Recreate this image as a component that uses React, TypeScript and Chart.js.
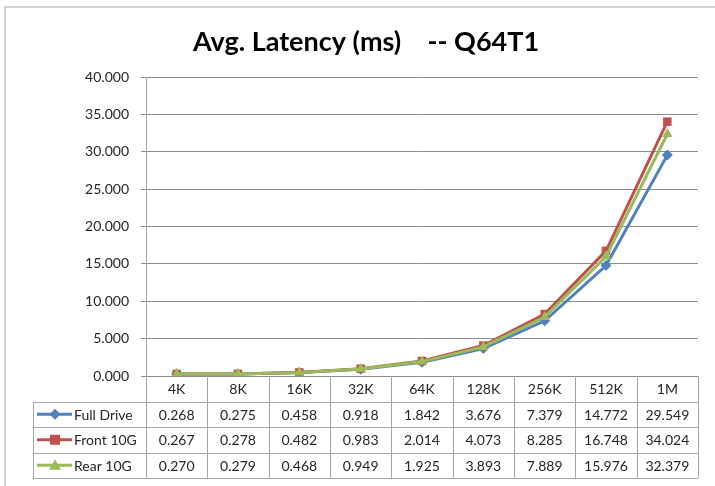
import React, { useEffect, useRef } from 'react';
import { Chart, registerables } from 'chart.js';

Chart.register(...registerables);

const titleText = 'Avg. Latency (ms)    -- Q64T1';
const categories = ['4K', '8K', '16K', '32K', '64K', '128K', '256K', '512K', '1M'];
const fullDrive = [0.268, 0.275, 0.458, 0.918, 1.842, 3.676, 7.379, 14.772, 29.549];
const front10G = [0.267, 0.278, 0.482, 0.983, 2.014, 4.073, 8.285, 16.748, 34.024];
const rear10G = [0.27, 0.279, 0.468, 0.949, 1.925, 3.893, 7.889, 15.976, 32.379];
const seriesNames = ['Full Drive', 'Front 10G', 'Rear 10G'];
const seriesValues = [fullDrive, front10G, rear10G];
const seriesColors = ['#4F81BD', '#C0504D', '#9BBB59'];
const seriesMarkers = ['rectRot', 'rect', 'triangle'];
const yMin = 0;
const yMax = 40;
const yStep = 5;

const FONT = 'Lato, "Open Sans", sans-serif';
const TEXT = '#262626';
const TABLE_LINE = '#a6a6a6';

function drawMarker(ctx: CanvasRenderingContext2D, style: string, cx: number, cy: number, color: string) {
  ctx.save();
  ctx.fillStyle = color;
  ctx.beginPath();
  if (style === 'rectRot') {
    const r = 5.5;
    ctx.moveTo(cx, cy - r);
    ctx.lineTo(cx + r, cy);
    ctx.lineTo(cx, cy + r);
    ctx.lineTo(cx - r, cy);
    ctx.closePath();
  } else if (style === 'rect') {
    ctx.rect(cx - 5, cy - 5, 10, 10);
  } else {
    const r = 6;
    ctx.moveTo(cx, cy - r);
    ctx.lineTo(cx + r, cy + r * 0.75);
    ctx.lineTo(cx - r, cy + r * 0.75);
    ctx.closePath();
  }
  ctx.fill();
  ctx.restore();
}

const decorPlugin = {
  id: 'decor',
  beforeDraw(chart: any) {
    const ctx = chart.ctx as CanvasRenderingContext2D;
    ctx.save();
    ctx.fillStyle = '#ffffff';
    ctx.fillRect(0, 0, chart.width, chart.height);
    ctx.strokeStyle = '#d0d0d0';
    ctx.lineWidth = 2;
    ctx.strokeRect(5, 7, chart.width + 20, chart.height + 20);
    ctx.fillStyle = '#000000';
    ctx.font = `bold 27px ${FONT}`;
    ctx.textAlign = 'center';
    ctx.textBaseline = 'middle';
    ctx.fillText(titleText, 366, 42);
    ctx.restore();
  },
  afterDraw(chart: any) {
    const ctx = chart.ctx as CanvasRenderingContext2D;
    const area = chart.chartArea;
    const n = categories.length;
    const colW = (area.right - area.left) / n;
    const top = area.bottom;
    const bottom = chart.height - 8;
    const rowH = (bottom - top) / 4;
    const legendLeft = 33;
    ctx.save();
    ctx.strokeStyle = TABLE_LINE;
    ctx.lineWidth = 1;
    ctx.beginPath();
    for (let r = 1; r <= 4; r++) {
      const y = Math.round(top + r * rowH) + 0.5;
      ctx.moveTo(legendLeft, y);
      ctx.lineTo(area.right, y);
    }
    ctx.moveTo(legendLeft + 0.5, top + rowH);
    ctx.lineTo(legendLeft + 0.5, bottom);
    for (let c = 0; c <= n; c++) {
      const x = Math.round(area.left + c * colW) + 0.5;
      ctx.moveTo(x, top);
      ctx.lineTo(x, bottom);
    }
    ctx.stroke();

    ctx.fillStyle = TEXT;
    ctx.font = `14px ${FONT}`;
    ctx.textAlign = 'center';
    ctx.textBaseline = 'middle';
    const xs = chart.scales.x;
    categories.forEach((cat, i) => {
      ctx.fillText(cat, xs.getPixelForValue(i), top + rowH / 2 + 1);
    });
    seriesValues.forEach((vals, s) => {
      const cy = top + rowH * (s + 1.5) + 1;
      vals.forEach((v, i) => {
        ctx.fillText(v.toFixed(3), xs.getPixelForValue(i), cy);
      });
    });
    seriesNames.forEach((name, s) => {
      const cy = top + rowH * (s + 1.5);
      ctx.strokeStyle = seriesColors[s];
      ctx.lineWidth = 3;
      ctx.beginPath();
      ctx.moveTo(37, cy);
      ctx.lineTo(72, cy);
      ctx.stroke();
      drawMarker(ctx, seriesMarkers[s], 55, cy, seriesColors[s]);
      ctx.fillStyle = TEXT;
      ctx.textAlign = 'left';
      ctx.fillText(name, 74, cy + 1);
    });
    ctx.restore();
  },
};

export default function App() {
  const ref = useRef<HTMLCanvasElement | null>(null);
  useEffect(() => {
    if (!ref.current) return;
    const chart = new Chart(ref.current, {
      type: 'line',
      data: {
        labels: categories,
        datasets: seriesNames.map((name, s) => ({
          label: name,
          data: seriesValues[s],
          borderColor: seriesColors[s],
          backgroundColor: seriesColors[s],
          borderWidth: 3,
          pointStyle: seriesMarkers[s] as any,
          pointRadius: s === 0 ? 5.5 : 6,
          pointBorderWidth: 0,
          pointBackgroundColor: seriesColors[s],
          tension: 0,
          order: 3 - s,
        })),
      },
      options: {
        responsive: false,
        animation: false,
        layout: { padding: { left: 0, right: 17, top: 77, bottom: 8 } },
        plugins: {
          legend: { display: false },
          title: { display: false },
          tooltip: { enabled: false },
        },
        scales: {
          x: {
            type: 'category',
            offset: true,
            grid: { display: false },
            border: { display: false },
            ticks: { display: false },
            afterFit: (scale: any) => {
              scale.height = 102;
            },
          },
          y: {
            min: yMin,
            max: yMax,
            ticks: {
              stepSize: yStep,
              padding: 12,
              color: TEXT,
              font: { family: FONT, size: 14 },
              callback: (v: any) => Number(v).toFixed(3),
            },
            grid: { color: '#8c8c8c', lineWidth: 1, tickLength: 5 },
            border: { display: true, color: '#a6a6a6', width: 1 },
            afterFit: (scale: any) => {
              scale.width = 146;
            },
          },
        },
      },
      plugins: [decorPlugin],
    });
    return () => chart.destroy();
  }, []);
  return (
    <div style={{ position: 'absolute', left: 0, top: 0, width: 715, height: 486, background: '#fff' }}>
      <canvas ref={ref} width={715} height={486} style={{ display: 'block' }} />
    </div>
  );
}
